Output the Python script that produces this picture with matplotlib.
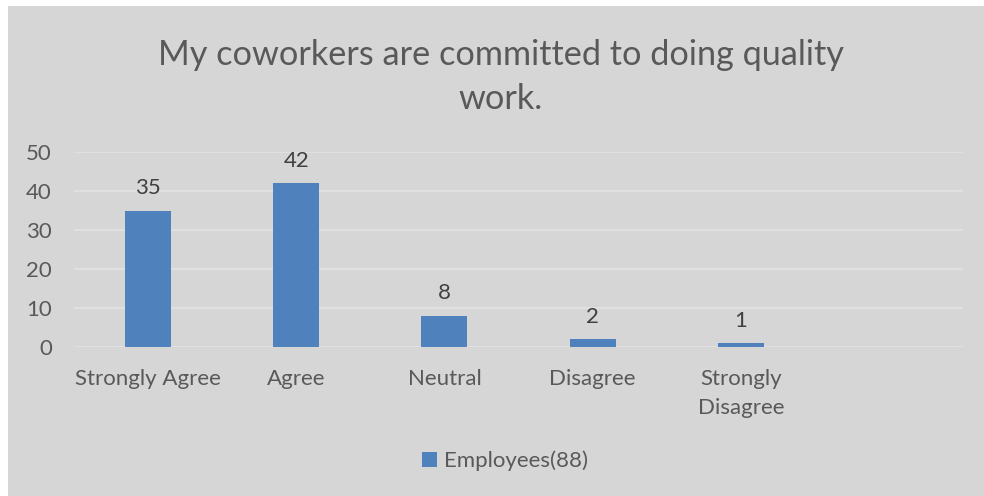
import numpy as np
import matplotlib.pyplot as plt
from matplotlib.patches import Rectangle

categories = ['Strongly Agree', 'Agree', 'Neutral', 'Disagree', 'Strongly\nDisagree', '']
employees = [35, 42, 8, 2, 1, 0]
series_name = 'Employees(88)'
title = 'My coworkers are committed to doing quality\nwork.'

plt.rcParams['font.family'] = ['Lato', 'DejaVu Sans']

fig = plt.figure(figsize=(9.84, 4.96), dpi=100)
fig.patch.set_facecolor('white')
# grey chart area, leaving a thin white strip top and left
fig.patches.append(Rectangle((8/984, 0), 1, 490/496, transform=fig.transFigure,
                             facecolor='#d6d6d6', edgecolor='none', zorder=-5))

ax = fig.add_axes([74/984, 149/496, 889/984, 195/496])
ax.set_facecolor('none')

x = np.arange(len(categories))
n = len(employees) - 1
bars = ax.bar(x[:n], employees[:n], width=0.31, color='#4f81bd', zorder=3,
              label=series_name)

for xi, v in zip(x[:n], employees[:n]):
    ax.annotate(str(v), (xi, v), xytext=(0, 9), textcoords='offset points',
                ha='center', va='bottom', fontsize=16, color='#404040')

ax.set_xlim(-0.5, len(categories) - 0.5)
ax.set_ylim(0, 50)
ax.set_yticks(range(0, 51, 10))
ax.yaxis.grid(True, color='#e3e3e3', linewidth=1.2, zorder=1)
ax.set_xticks(x)
ax.set_xticklabels(categories, linespacing=1.6)
ax.tick_params(axis='both', length=0, labelsize=16, colors='#595959')
ax.tick_params(axis='x', pad=15.5)
ax.tick_params(axis='y', pad=16)
for s in ax.spines.values():
    s.set_visible(False)

fig.text(501/984, 1 - 77/496, title, ha='center', va='center', fontsize=24.7,
         color='#595959', linespacing=1.45)

fig.legend(handles=[bars], labels=[series_name], loc='center',
           bbox_to_anchor=(505/984, 1 - 461/496), frameon=False, fontsize=16,
           labelcolor='#595959', handlelength=0.7, handleheight=0.7,
           handletextpad=0.3)

fig.savefig('out.png', dpi=100)
